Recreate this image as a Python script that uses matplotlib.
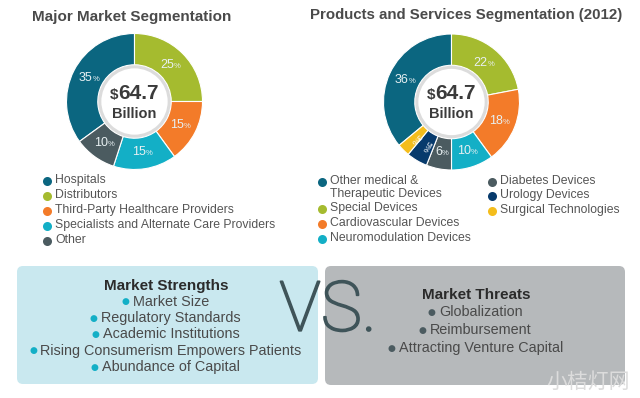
#!/usr/bin/env python3
"""Medical device market overview: two segmentation donuts + strengths/threats boxes"""
import numpy as np
import matplotlib
matplotlib.use("Agg")
import matplotlib.pyplot as plt
import matplotlib.patheffects as pe
from matplotlib.patches import Circle, FancyBboxPatch

W, H = 640, 398
SANS = ['Liberation Sans', 'DejaVu Sans']
NARROW = ['Liberation Sans Narrow', 'Liberation Sans', 'DejaVu Sans']

# Data
market_labels = ["Hospitals", "Distributors", "Third-Party Healthcare Providers",
                 "Specialists and Alternate Care Providers", "Other"]
market_pct = [35, 25, 15, 15, 10]
market_colors = ['#0b6680', '#a5bb2f', '#f37b29', '#13afc6', '#4b5b60']

product_labels = ["Other medical &\nTherapeutic Devices", "Special Devices",
                  "Cardiovascular Devices", "Neuromodulation Devices",
                  "Diabetes Devices", "Urology Devices", "Surgical Technologies"]
product_pct = [36, 22, 18, 10, 6, 5, 3]
product_colors = ['#0b6680', '#a5bb2f', '#f37b29', '#13afc6', '#4b5b60', '#073a6c', '#f4bd1c']

total_label = "64.7"
strengths = ["Market Size", "Regulatory Standards", "Academic Institutions",
             "Rising Consumerism Empowers Patients", "Abundance of Capital"]
threats = ["Globalization", "Reimbursement", "Attracting Venture Capital"]

fig = plt.figure(figsize=(W / 100, H / 100), dpi=100)
fig.patch.set_facecolor('white')
bg = fig.add_axes([0, 0, 1, 1])
bg.set_xlim(0, W)
bg.set_ylim(H, 0)
bg.axis('off')


def donut(cx, cy, r, values, colors, start):
    ax = fig.add_axes([(cx - r) / W, 1 - (cy + r) / H, 2 * r / W, 2 * r / H])
    wedges, _ = ax.pie(values, colors=colors, startangle=start, counterclock=False,
                       radius=1, wedgeprops=dict(width=0.46, edgecolor='white', lw=0.8))
    ax.set_xlim(-1, 1)
    ax.set_ylim(-1, 1)
    ax.add_patch(Circle((0, 0), 0.51, fc='white', ec='#dcdcdc', lw=2.2, zorder=5))
    for w, v in zip(wedges, values):
        ang = np.deg2rad((w.theta1 + w.theta2) / 2)
        x, y = 0.75 * np.cos(ang), 0.75 * np.sin(ang)
        if v < 6:
            # thin slices get a small label turned along the radius
            ax.text(x, y, f"{v}%", fontsize=6, color='white', family=SANS,
                    ha='center', va='center', rotation=np.rad2deg(ang), zorder=6)
            continue
        t = ax.text(x - 0.05, y, str(v), fontsize=9, color='#e8f0f2', family=SANS,
                    ha='center', va='center', zorder=6)
        ax.annotate('%', xy=(1, 0.08), xycoords=t, fontsize=5.5, color='#e8f0f2',
                    family=SANS, ha='left', va='bottom', zorder=6)
    num = ax.text(0.06, 0.12, total_label, fontsize=15, fontweight='bold', color='#3b3b3b',
                  family=NARROW, ha='center', va='center', zorder=7)
    ax.annotate('$', xy=(0, 0.05), xycoords=num, fontsize=11, fontweight='bold',
                color='#3b3b3b', family=NARROW, ha='right', va='bottom', zorder=7)
    ax.text(0, -0.18, "Billion", fontsize=10.5, fontweight='bold', color='#3b3b3b',
            family=NARROW, ha='center', va='center', zorder=7)
    return ax


donut(134.5, 101.5, 68, market_pct, market_colors, 90 + 3.6 * market_pct[0])
donut(451.5, 102, 68, product_pct, product_colors, 90 + 3.6 * product_pct[0])

# titles
bg.text(132, 17, "Major Market Segmentation", fontsize=11, fontweight='bold',
        color='#4a4a4a', family=SANS, ha='center', va='center')
bg.text(466, 15, "Products and Services Segmentation (2012)", fontsize=10.8, fontweight='bold',
        color='#4a4a4a', family=SANS, ha='center', va='center')

# legends
def legend(x, ys, labels, colors):
    for y, lab, c in zip(ys, labels, colors):
        bg.plot(x, y, 'o', ms=6.5, color=c, mec='none')
        bg.text(x + 8, y - 7, lab, fontsize=8.8, color='#555555', family=SANS,
                ha='left', va='top', linespacing=1.08)

legend(47, [181, 196, 211, 226, 241], market_labels, market_colors)
legend(322, [182, 209, 224, 239], product_labels[:4], product_colors[:4])
legend(492, [182, 196, 211], product_labels[4:], product_colors[4:])

# boxes
bg.add_patch(FancyBboxPatch((17, 266), 301, 118, boxstyle='round,pad=0,rounding_size=6',
                            fc='#c9e8ef', ec='none'))
bg.add_patch(FancyBboxPatch((325, 266), 300, 119, boxstyle='round,pad=0,rounding_size=6',
                            fc='#b6b9bb', ec='none'))

def box_list(cx, y0, title, items, dot_color, step):
    bg.text(cx, y0, title, fontsize=11, fontweight='bold', color='#2b2b2b',
            family=SANS, ha='center', va='center')
    for i, it in enumerate(items):
        t = bg.text(cx + 5, y0 + step * (i + 1) - 1, it, fontsize=10.4, color='#4a4a4a',
                    family=SANS, ha='center', va='center')
        bg.annotate('●', xy=(0, 0.5), xycoords=t, xytext=(-2.5, 0), textcoords='offset points',
                    fontsize=6.5, color=dot_color, family=['DejaVu Sans'],
                    ha='right', va='center')

box_list(166, 286, "Market Strengths", strengths, '#13afc6', 16.5)
box_list(476, 295, "Market Threats", threats, '#4b5b60', 18)

vs = bg.text(328, 312, "VS.", fontsize=50, fontweight='light', color='#3f5459',
             family=['Roboto', 'DejaVu Sans'], ha='center', va='center')
vs.set_path_effects([pe.withStroke(linewidth=1.3, foreground='#3f5459')])

bg.text(588, 382, "小桔灯网", fontsize=15, color='#dcdcdc',
        family=['Noto Sans CJK SC', 'DejaVu Sans'], ha='center', va='center')

fig.savefig("out.png", dpi=100)
